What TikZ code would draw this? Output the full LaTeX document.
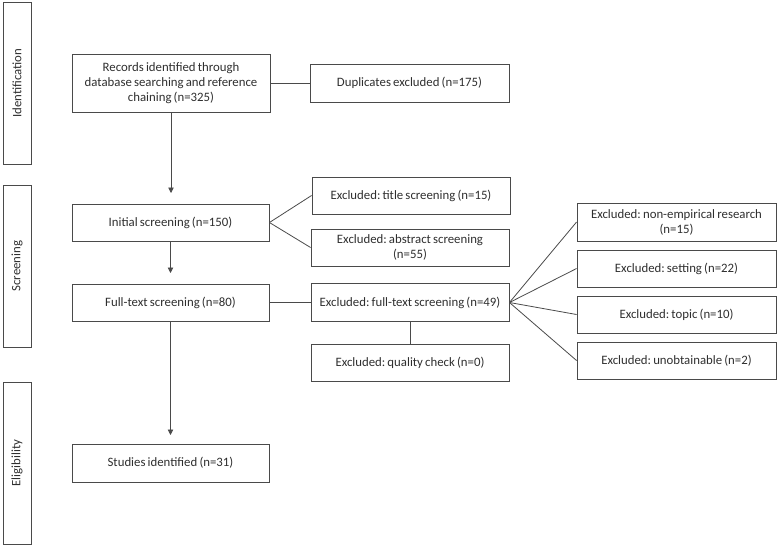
\documentclass[tikz,border=0pt]{standalone}
\usepackage{fontspec}
\setmainfont{Carlito}
\usetikzlibrary{arrows.meta}
\definecolor{ln}{HTML}{4A4A4A}
\definecolor{tx}{HTML}{2E2E2E}
\frenchspacing
\newcommand\mytxtfont{\fontsize{12.8}{15}\selectfont\spaceskip=0.17em plus 0.05em minus 0.05em\relax}
\begin{document}
\begin{tikzpicture}[x=1pt,y=-1pt,
  txt/.style={font=\mytxtfont},
  box/.style={draw=ln,line width=0.9pt,text=tx,txt,align=center,inner sep=0pt},
  phase/.style={draw=ln,line width=0.9pt,text=tx,txt,inner sep=0pt},
  con/.style={draw=ln,line width=0.8pt},
  arr/.style={con,-{Triangle[width=5.5pt,length=5.5pt]}}]
\useasboundingbox (0,0) rectangle (778,547);
% phase boxes
\node[phase,minimum width=28pt,minimum height=162pt] (id) at (17,83) {\rotatebox{90}{Identification}};
\node[phase,minimum width=28pt,minimum height=162pt] (sc) at (17,266) {\rotatebox{90}{Screening}};
\node[phase,minimum width=28pt,minimum height=162pt] (el) at (17,463) {\rotatebox{90}{Eligibility}};
% main column
\node[box,minimum width=198pt,minimum height=58pt] (rec) at (171,83) {Records identified through\\database searching and reference\\chaining (n=325)};
\node[box,minimum width=197pt,minimum height=37pt] (ini) at (170.5,222.5) {Initial screening (n=150)};
\node[box,minimum width=197pt,minimum height=37pt] (ful) at (170.5,302.5) {Full-text screening (n=80)};
\node[box,minimum width=197pt,minimum height=38pt] (stu) at (170.5,463) {Studies identified (n=31)};
% middle column
\node[box,minimum width=199pt,minimum height=38pt] (dup) at (409.5,83) {Duplicates excluded (n=175)};
\node[box,minimum width=198pt,minimum height=37pt] (tit) at (411,195.5) {Excluded: title screening (n=15)};
\node[box,minimum width=198pt,minimum height=37pt] (abs) at (410,247.5) {Excluded: abstract screening\\(n=55)};
\node[box,minimum width=198pt,minimum height=38pt] (fex) at (410,302.5) {Excluded: full-text screening (n=49)};
\node[box,minimum width=198pt,minimum height=37pt] (qua) at (410,362.5) {Excluded: quality check (n=0)};
% right column
\node[box,minimum width=199pt,minimum height=38pt] (emp) at (676.5,222) {Excluded: non-empirical research\\(n=15)};
\node[box,minimum width=199pt,minimum height=37pt] (set) at (676.5,268.5) {Excluded: setting (n=22)};
\node[box,minimum width=199pt,minimum height=37pt] (top) at (676.5,314.5) {Excluded: topic (n=10)};
\node[box,minimum width=199pt,minimum height=37pt] (unb) at (676.5,360.5) {Excluded: unobtainable (n=2)};
% connectors
\coordinate (a1) at (171,193);
\coordinate (a2) at (170.5,273);
\coordinate (a3) at (170.5,435);
\draw[arr] (rec.south) -- (a1);
\draw[arr] (ini.south) -- (a2);
\draw[arr] (ful.south) -- (a3);
\draw[con] (rec.east) -- (dup.west);
\draw[con] (ini.east) -- (tit.west);
\draw[con] (ini.east) -- (abs.west);
\draw[con] (ful.east) -- (fex.west);
\draw[con] (fex.south) -- (qua.north);
\draw[con] (fex.east) -- (emp.west);
\draw[con] (fex.east) -- (set.west);
\draw[con] (fex.east) -- (top.west);
\draw[con] (fex.east) -- (unb.west);
\end{tikzpicture}
\end{document}
